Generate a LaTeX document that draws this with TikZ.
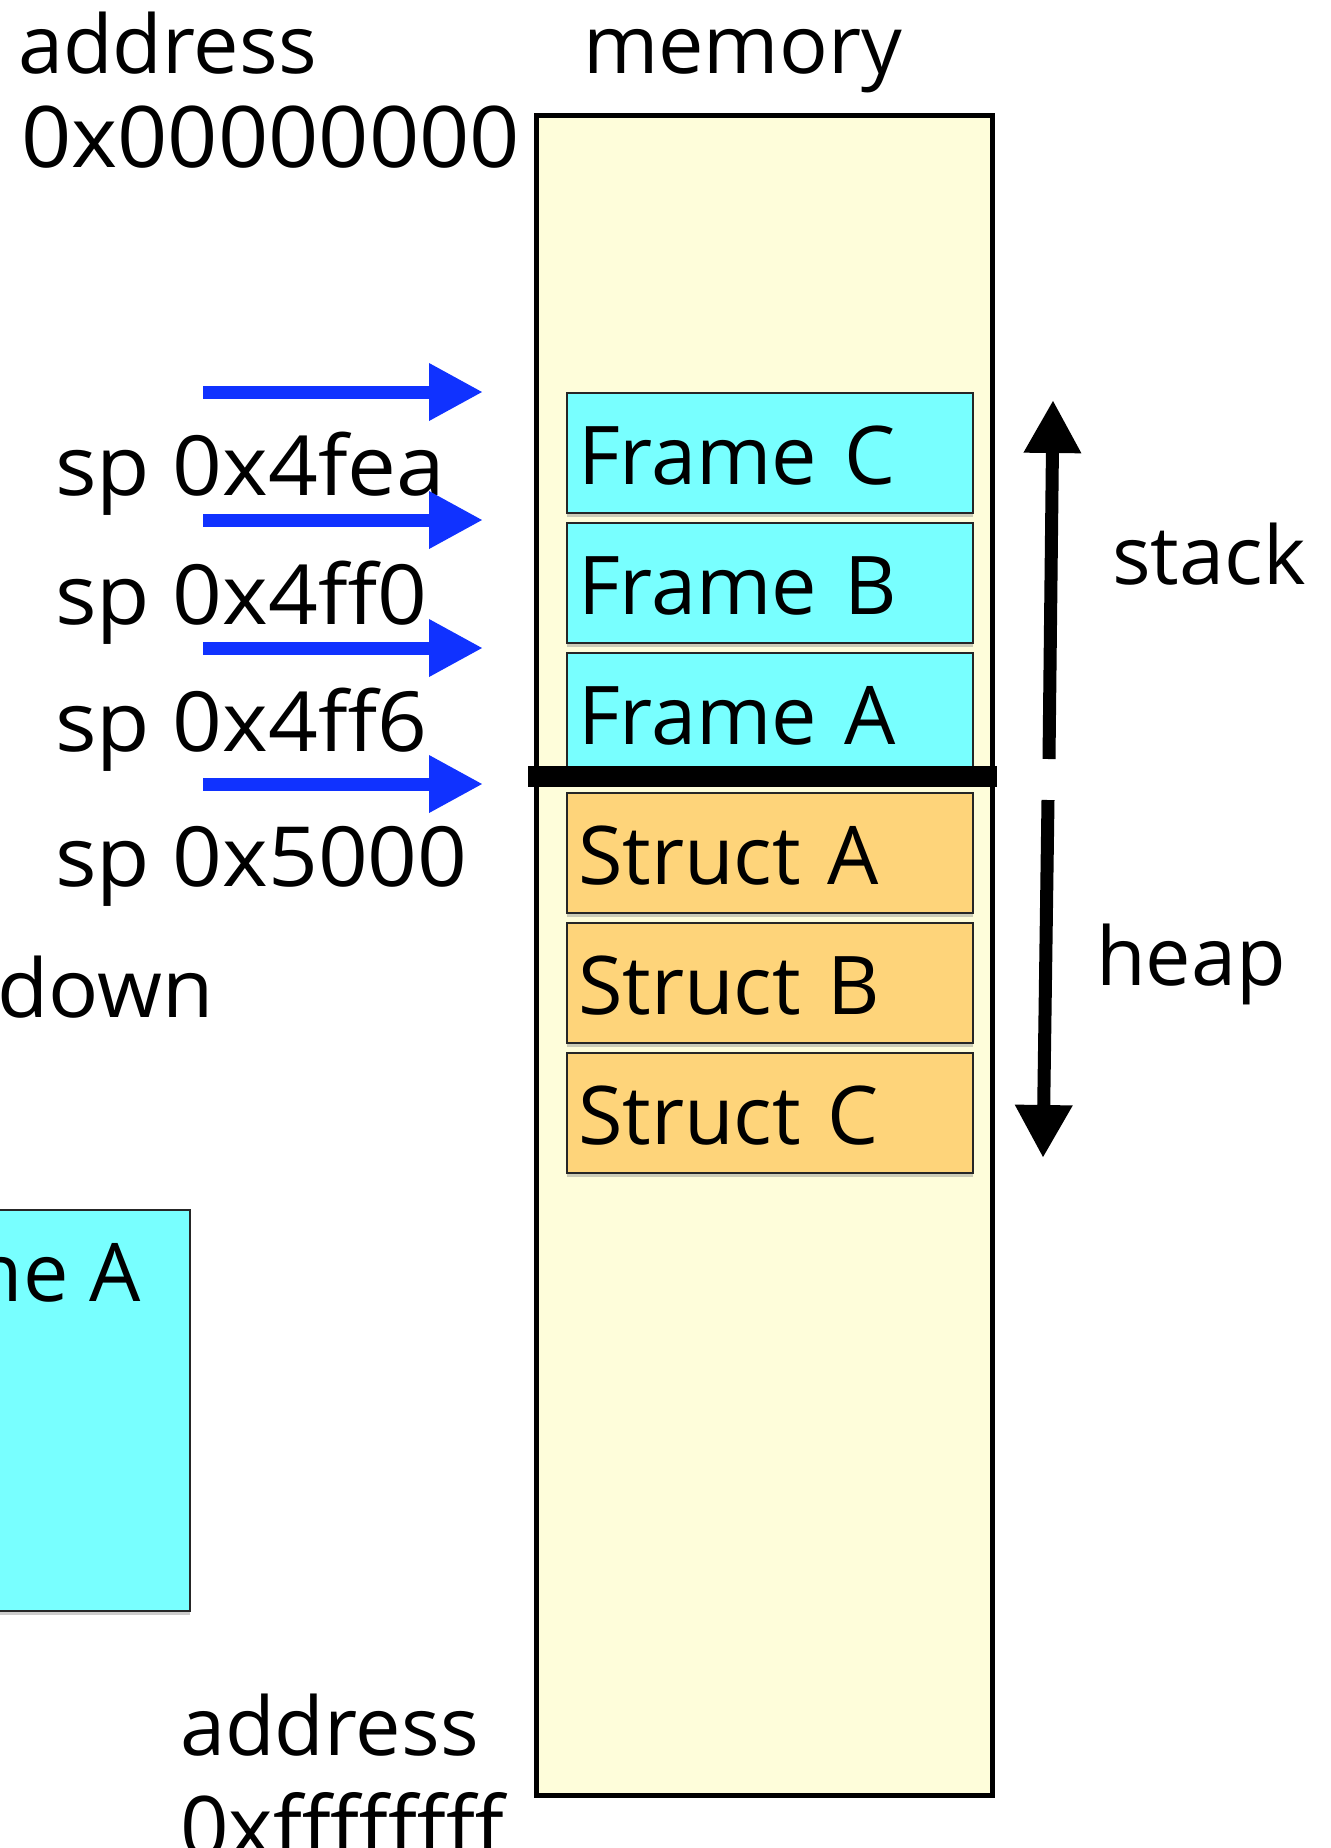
\documentclass[tikz,border=0pt]{standalone}
\usepackage{graphicx}
\usepackage{fontspec}
\setmainfont{Open Sans}
\usetikzlibrary{positioning,arrows.meta,shadows}

\newcommand{\wide}[2]{\scalebox{#1}[1]{#2}}

\begin{document}
\begin{tikzpicture}[x=1pt,y=-1pt,
    every node/.style={font=\fontsize{81}{90}\selectfont, inner sep=0pt},
    cell/.style={draw=black!85, line width=2pt,
        drop shadow={shadow xshift=0pt, shadow yshift=-4pt, opacity=0.4}},
    membox/.style={draw, line width=5pt, fill=memyellow,
        minimum width=456pt, minimum height=1680pt},
    slotbox/.style={cell, text width=384pt, align=left, inner xsep=11pt,
        text height=62pt, text depth=0pt, minimum height=120pt},
    framebox/.style={slotbox, fill=framecyan},
    structbox/.style={slotbox, fill=structorange},
    sparrow/.style={draw=spblue, line width=13pt,
        -{Triangle[length=54pt,width=54pt]}},
    growarrow/.style={line width=13pt, -{Triangle[length=53pt,width=54pt]}},
    biglabel/.style={font=\fontsize{85}{94}\selectfont}
  ]
    \definecolor{memyellow}{RGB}{254,253,218}
    \definecolor{framecyan}{RGB}{120,255,255}
    \definecolor{structorange}{RGB}{254,212,122}
    \definecolor{spblue}{RGB}{16,50,255}

    \useasboundingbox (0,0) rectangle (1331,1848);
    \clip (0,0) rectangle (1331,1848);

    % the memory column
    \node[membox] (mem) at (764,955) {};
    \node[anchor=base west] (memlabel) at (583,73) {memory};

    % stack frames
    \node[framebox, anchor=north west] (framec) at (566,392) {Frame C};
    \node[framebox, below=8pt of framec] (frameb) {Frame B};
    \node[framebox, below=8pt of frameb] (framea) {Frame A};

    % stack / heap border
    \coordinate (splitl) at (528,776);
    \coordinate (splitr) at (997,776);
    \draw[line width=21pt] (splitl) -- (splitr);

    % heap structs
    \node[structbox, anchor=north west] (structa) at (566,792) {Struct A};
    \node[structbox, below=8pt of structa] (structb) {Struct B};
    \node[structbox, below=8pt of structb] (structc) {Struct C};

    % addresses
    \node[anchor=base west] (toplabel) at (18,73) {address};
    \node[biglabel, anchor=base west] (topaddr) at (21,167) {\wide{1.035}{0x00000000}};
    \node[anchor=base west] (botlabel) at (180,1755) {address};
    \node[biglabel, anchor=base west] (botaddr) at (180,1857) {0xffffffff};

    % stack pointer values
    \foreach \y/\val [count=\i] in {495/0x4fea,624/0x4ff0,751/0x4ff6,886/0x5000}
      \node[anchor=base west, font=\fontsize{83}{92}\selectfont]
        (sp\i) at (55,\y) {\wide{1.05}{sp \val}};
    \foreach \y [count=\i] in {392,520,648,784} {
      \coordinate (sptail\i) at (203,\y);
      \coordinate (sphead\i) at (483,\y);
      \draw[sparrow] (sptail\i) -- (sphead\i);
    }
    \node[anchor=base east] (downlabel) at (214,1017) {\wide{1.03}{down}};

    % growth directions
    \coordinate (stacktail) at (1049,759);
    \coordinate (stackhead) at (1053,400);
    \coordinate (heaptail) at (1048,800);
    \coordinate (heaphead) at (1043,1158);
    \draw[growarrow] (stacktail) -- (stackhead);
    \draw[growarrow] (heaptail) -- (heaphead);
    \node[anchor=base west] (stacklabel) at (1112,584) {stack};
    \node[anchor=base west] (heaplabel) at (1096,985) {heap};

    % the frame that is cut off on the left
    \node[cell, fill=framecyan, anchor=north east,
          minimum width=240pt, minimum height=401pt] (oldframe) at (191,1209) {};
    \node[anchor=base east] (oldlabel) at (141,1301) {Frame A};
\end{tikzpicture}
\end{document}
